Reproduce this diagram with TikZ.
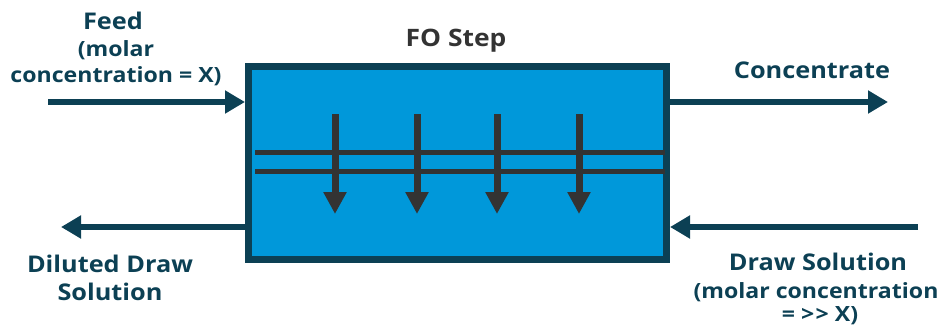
\documentclass[tikz,border=0pt]{standalone}
\usepackage{fontspec}
\setmainfont{Open Sans}[FakeStretch=1.1]
\usepackage{xcolor}
\usetikzlibrary{positioning,arrows.meta,calc}
\definecolor{deepteal}{RGB}{12,64,84}
\definecolor{fobl}{RGB}{0,152,218}
\definecolor{darkgr}{RGB}{51,51,51}

\begin{document}
\begin{tikzpicture}
	[x=1pt,y=-1pt,
	flow/.style={-{Triangle[length=20pt,width=22pt]},line width=6.5pt,draw=deepteal},
	perm/.style={-{Triangle[length=22pt,width=22pt]},line width=7pt,draw=darkgr},
	big/.style={font=\fontsize{23}{26}\selectfont\bfseries,text=deepteal,inner sep=0pt},
	small/.style={font=\fontsize{21}{24}\selectfont\bfseries,text=deepteal,inner sep=0pt,align=center}]
	\useasboundingbox (0,0) rectangle (940,329);
	%BOX
	\node[draw=deepteal,fill=fobl,line width=7pt,minimum width=418pt,minimum height=193pt,inner sep=0pt] (fo) at (457.5,163) {};
	\node[font=\fontsize{24}{26}\selectfont\bfseries,text=darkgr,inner sep=0pt] (title) at (456,41) {FO Step};
	%MEMBRANE
	\coordinate (m1l) at (255,152);
	\coordinate (m1r) at (665,152);
	\coordinate (m2l) at (255,171);
	\coordinate (m2r) at (665,171);
	\draw[darkgr,line width=5pt] (m1l) -- (m1r);
	\draw[darkgr,line width=5pt] (m2l) -- (m2r);
	\foreach \x in {335,417,497,579}
	{
		\coordinate (t\x) at (\x,114);
		\coordinate (b\x) at (\x,214);
		\draw[perm] (t\x) -- (b\x);
	};
	%FEED
	\coordinate (feed) at (48,102);
	\draw[flow] (feed) -- (feed -| fo.west);
	\node[big] (feedlbl) at (113,21) {Feed};
	\node[small] (feedsub) at (116,50) {(molar};
	\node[small] (feedsub2) at (116,76) {concentration = X)};
	%CONCENTRATE
	\coordinate (conc) at (888,102);
	\draw[flow] (conc -| fo.east) -- (conc);
	\node[big] (conclbl) at (812,70) {Concentrate};
	%DRAW SOLUTION
	\coordinate (ds) at (918,227);
	\draw[flow] (ds) -- (ds -| fo.east);
	\node[big] (dslbl) at (818,262) {Draw Solution};
	\node[small] (dssub) at (816,292) {(molar concentration};
	\node[small] (dssub2) at (820,316) {= >\kern1.5pt> X)};
	%DILUTED
	\coordinate (dil) at (61,227);
	\draw[flow] (dil -| fo.west) -- (dil);
	\node[big] (dillbl) at (110,264) {Diluted Draw};
	\node[big] (dillbl2) at (110,292) {Solution};
\end{tikzpicture}
\end{document}
